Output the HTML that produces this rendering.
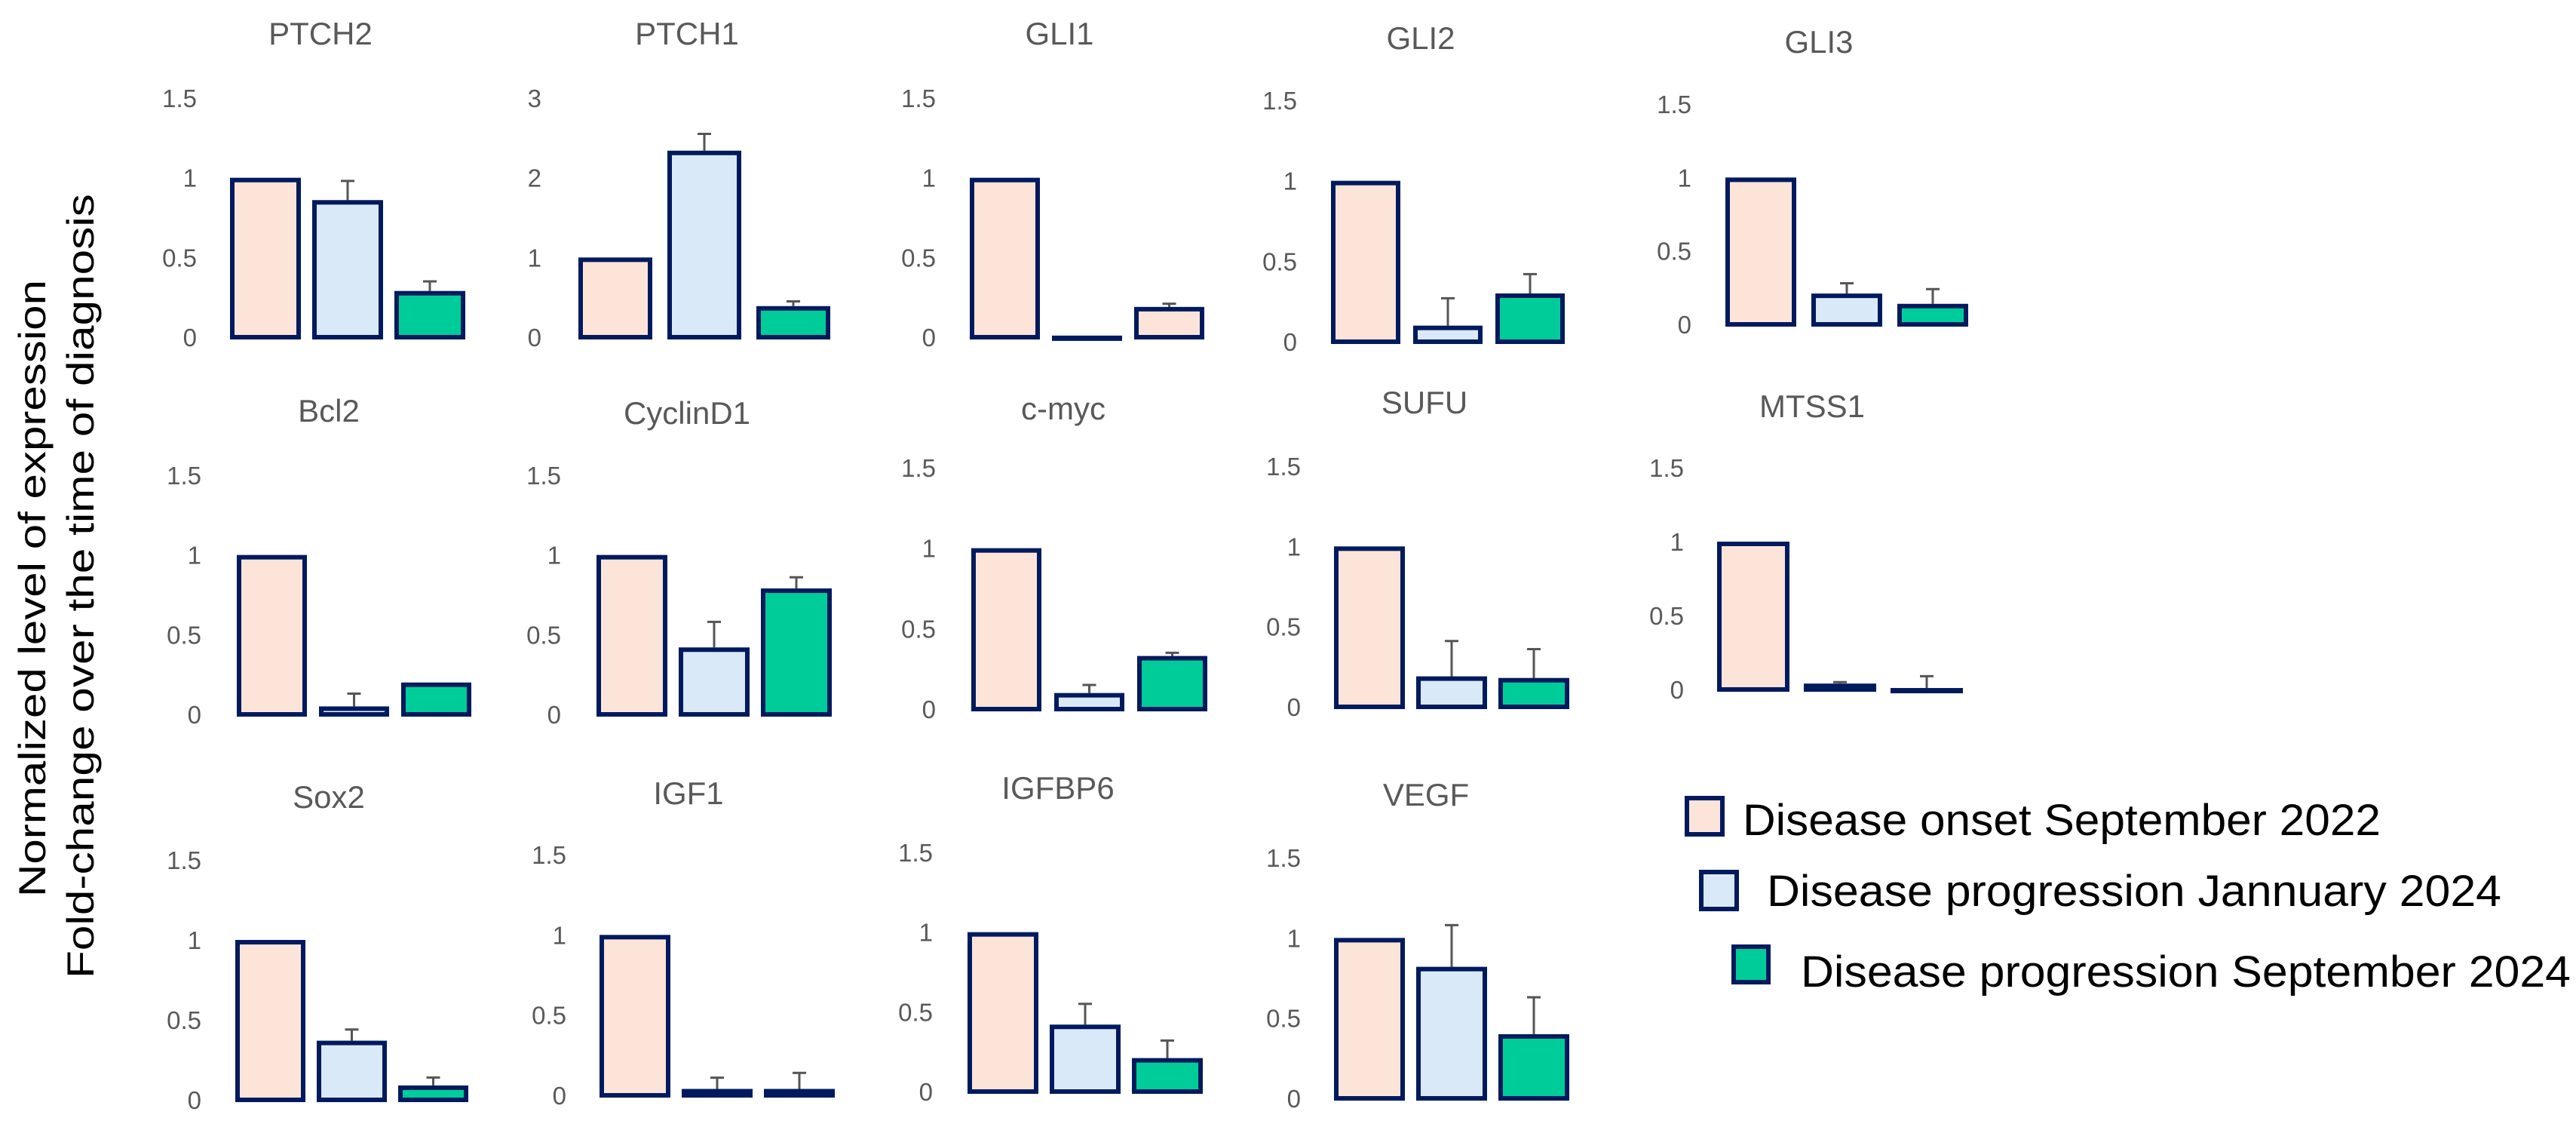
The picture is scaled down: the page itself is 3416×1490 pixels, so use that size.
<!DOCTYPE html>
<html><head><meta charset="utf-8">
<style>
html,body{margin:0;padding:0;background:#fff;}
svg{display:block;font-family:"Liberation Sans",sans-serif;}
</style></head>
<body>
<svg id="chart" width="3416" height="1490" viewBox="0 0 3416 1490">
<g>
<text transform="translate(60,780) rotate(-90)" text-anchor="middle" font-size="50" fill="#000" textLength="818" lengthAdjust="spacingAndGlyphs">Normalized level of expression</text>
<text transform="translate(124,777) rotate(-90)" text-anchor="middle" font-size="50" fill="#000" textLength="1040" lengthAdjust="spacingAndGlyphs">Fold-change over the time of diagnosis</text>
</g>
<g id="panels"></g>
<g>
<g>
<rect x="2237" y="1058" width="47" height="48" fill="#fde4d9" stroke="#001a5e" stroke-width="6"/>
<text x="2311" y="1107" font-size="58" fill="#000" textLength="846" lengthAdjust="spacingAndGlyphs">Disease onset September 2022</text></g>
<g>
<rect x="2256" y="1156" width="47" height="49" fill="#d9e9f7" stroke="#001a5e" stroke-width="6"/>
<text x="2343" y="1201" font-size="58" fill="#000" textLength="974" lengthAdjust="spacingAndGlyphs">Disease progression Jannuary 2024</text></g>
<g>
<rect x="2299" y="1255" width="46" height="47" fill="#00cc99" stroke="#001a5e" stroke-width="6"/>
<text x="2388" y="1308" font-size="58" fill="#000" textLength="1021" lengthAdjust="spacingAndGlyphs">Disease progression September 2024</text></g>
</g>
</svg>
<script>
const genes = ["PTCH2","PTCH1","GLI1","GLI2","GLI3","Bcl2","CyclinD1","c-myc","SUFU","MTSS1","Sox2","IGF1","IGFBP6","VEGF"];
const onset = [1,1,1,1,1,1,1,1,1,1,1,1,1,1];
const jan2024 = [0.86,2.34,0.01,0.10,0.21,0.05,0.42,0.10,0.19,0.04,0.37,0.04,0.42,0.82];
const sep2024 = [0.29,0.39,0.19,0.30,0.14,0.20,0.79,0.33,0.18,0.01,0.09,0.04,0.21,0.40];
const janErr = [0.12,0.21,0.0,0.17,0.07,0.08,0.16,0.05,0.22,0.01,0.07,0.07,0.13,0.26];
const sepErr = [0.06,0.06,0.02,0.12,0.10,0.0,0.07,0.02,0.18,0.08,0.05,0.10,0.11,0.23];
const yMax = [1.5,3,1.5,1.5,1.5,1.5,1.5,1.5,1.5,1.5,1.5,1.5,1.5,1.5];
const tickLabels15 = ["0","0.5","1","1.5"];
const tickLabels3 = ["0","1","2","3"];
const thirdColors = ["#00cc99","#00cc99","#fde4d9","#00cc99","#00cc99","#00cc99","#00cc99","#00cc99","#00cc99","#00cc99","#00cc99","#00cc99","#00cc99","#00cc99"];

// layout per panel: [titleX, titleY, yTop, yZero, labelRight, barX0, barW, step]
const layout = [
 [425,43,130,447,261,305,94,109],
 [911,43,130,447,718,767,98,118],
 [1405,43,130,447,1241,1286,93,109],
 [1884,49,133,453,1720,1765,92,109],
 [2412,54,138,430,2243,2288,94,114],
 [436,543,630,947,267,314,93,109],
 [911,546,630,947,744,791,94,109],
 [1410,540,620,940,1241,1288,93,110],
 [1889,532,618,937,1725,1769,94,109],
 [2403,537,620,914,2233,2277,96,115],
 [436,1055,1140,1458,267,312,93,108],
 [913,1050,1133,1452,751,795,94,109],
 [1403,1043,1130,1447,1237,1283,94,109],
 [1891,1052,1137,1456,1725,1769,94,109]
];
const NS="http://www.w3.org/2000/svg";
const root=document.getElementById('panels');
function mk(tag,attrs,parent){const e=document.createElementNS(NS,tag);for(const k in attrs)e.setAttribute(k,attrs[k]);parent.appendChild(e);return e;}
genes.forEach((g,i)=>{
 const [tx,ty,yTop,yZero,lr,bx0,bw,step]=layout[i];
 const max=yMax[i];
 const y=v=>yZero-(v/max)*(yZero-yTop);
 const grp=mk('g',{},root);
 
 
 const t=mk('text',{x:tx,y:ty+16,'text-anchor':'middle','font-size':42,fill:'#595959'},grp);
 t.textContent=g;
 
 
 const labels=max===3?tickLabels3:tickLabels15;
 labels.forEach((lab,k)=>{
  const v=max*k/3;
  const tl=mk('text',{x:lr,y:y(v)+12,'text-anchor':'end','font-size':33,fill:'#595959'},grp);
  tl.textContent=lab;
  
  
 });
 const vals=[onset[i],jan2024[i],sep2024[i]];
 const errs=[0,janErr[i],sepErr[i]];
 const cols=["#fde4d9","#d9e9f7",thirdColors[i]];
 const names=["bar-onset","bar-jan-2024","bar-sep-2024"];
 vals.forEach((v,k)=>{
  const x=bx0+k*step;
  const top=y(v);
  const h=Math.max(yZero-top,0);
  if(errs[k]>0){
   const ey=y(v+errs[k]);
   const ln=mk('path',{d:`M${x+bw/2},${top} V${ey} M${x+bw/2-9},${ey} H${x+bw/2+9}`,stroke:'#555',"stroke-width":3,fill:'none'},grp);
   
   
  }
  const r=mk('rect',{x:x+3,y:top+3,width:bw-6,height:Math.max(h-3,1),fill:cols[k],stroke:'#001a5e','stroke-width':6},grp);
  
  
 });
});
</script>
</body></html>
